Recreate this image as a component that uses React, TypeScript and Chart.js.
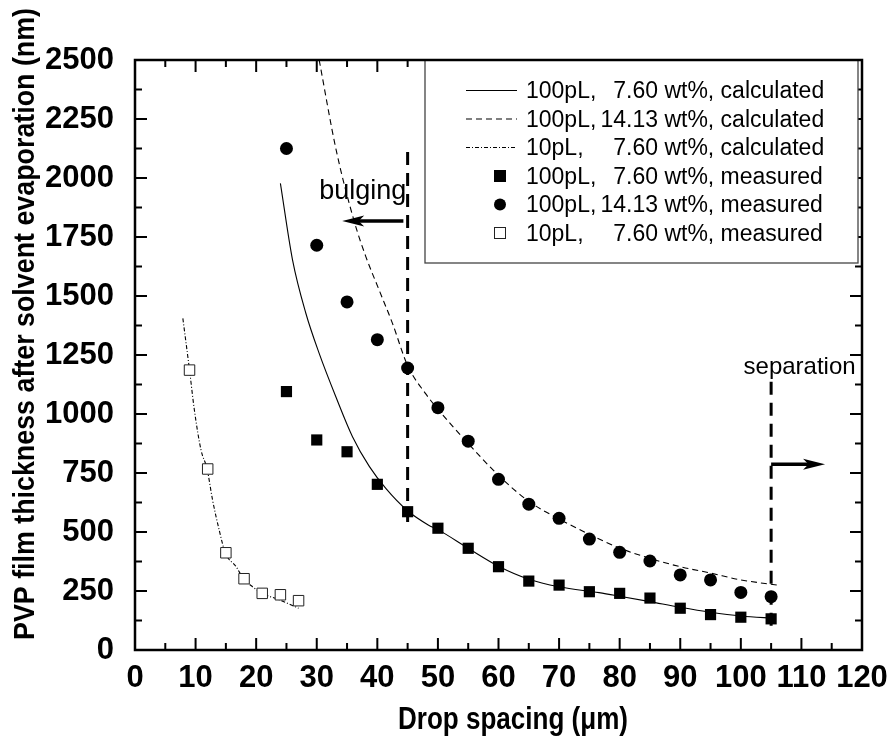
import React, { useEffect, useRef } from 'react';
import { Chart, registerables } from 'chart.js';

Chart.register(...registerables);

// ---------------- data ----------------
// calculated curves
const CALC_100_760_X = [24.0, 26.0, 28.2, 30.4, 33.2, 35.9, 38.7, 41.4, 45, 48.4, 50, 55, 60, 65, 70, 76.6, 80, 85, 90, 95, 100, 105.7];
const CALC_100_760_Y = [1977, 1653, 1427, 1257, 1070, 904, 777, 685, 590, 530, 510, 431, 355, 300, 268, 243, 228, 205, 181, 160, 144, 134];

const CALC_100_1413_X = [30.4, 33.2, 36.2, 38.1, 40.3, 42.5, 45, 48, 50, 55, 60, 65, 70, 75, 80, 85, 90, 95, 100, 106];
const CALC_100_1413_Y = [2500, 2119, 1815, 1667, 1525, 1384, 1205, 1085, 1020, 875, 740, 630, 555, 490, 432, 388, 353, 326, 297, 275];

const CALC_10_760_X = [7.9, 9.0, 9.8, 10.9, 11.9, 12.8, 13.9, 14.9, 16.7, 17.9, 19.4, 21.0, 23.9, 27.0];
const CALC_10_760_Y = [1405, 1186, 1017, 847, 767, 636, 508, 412, 353, 302, 268, 240, 212, 177];

// measured points
const MEAS_100_X = [25, 30, 35, 40, 45, 50, 55, 60, 65, 70, 75, 80, 85, 90, 95, 100, 105];
const MEAS_100_760_Y = [1095, 890, 840, 702, 586, 516, 431, 353, 292, 275, 247, 240, 220, 177, 150, 139, 132];
const MEAS_100_1413_Y = [2125, 1715, 1475, 1315, 1195, 1027, 885, 723, 618, 558, 470, 414, 377, 318, 297, 244, 226];

const MEAS_10_760_X = [9, 12, 15, 18, 21, 24, 27];
const MEAS_10_760_Y = [1186, 767, 412, 302, 240, 234, 209];

// axes
const X_TICKS = [0, 10, 20, 30, 40, 50, 60, 70, 80, 90, 100, 110, 120];
const X_MINOR = [5, 15, 25, 35, 45, 55, 65, 75, 85, 95, 105, 115];
const Y_TICKS = [0, 250, 500, 750, 1000, 1250, 1500, 1750, 2000, 2250, 2500];
const Y_MINOR = [125, 375, 625, 875, 1125, 1375, 1625, 1875, 2125, 2375];

const X_TITLE = 'Drop spacing (\u03bcm)';
const Y_TITLE = 'PVP film thickness after solvent evaporation (nm)';

// annotations (data units)
const BULGING_LINE = { x: 45, y0: 510, y1: 2110 };
const SEPARATION_LINE = { x: 105, y0: 100, y1: 1137 };
const BULGING_ARROW = { x0: 44.3, x1: 34.2, y: 1818 };
const SEPARATION_ARROW = { x0: 105, x1: 113.9, y: 787 };
const BULGING_TEXT = { text: 'bulging', x: 37.6, y: 1909 };
const SEPARATION_TEXT = { text: 'separation', x: 109.7, y: 1170 };

// legend entries
const LEGEND_VOL = ['100pL,', '100pL,', '10pL,', '100pL,', '100pL,', '10pL,'];
const LEGEND_CONC = ['7.60', '14.13', '7.60', '7.60', '14.13', '7.60'];
const LEGEND_KIND = ['calculated', 'calculated', 'calculated', 'measured', 'measured', 'measured'];
const LEGEND_SYMBOL = ['solid', 'dash', 'dashdot', 'square', 'circle', 'opensquare'];

const zip = (xs: number[], ys: number[]) => xs.map((x, i) => ({ x, y: ys[i] }));

const SANS = "'Liberation Sans', Arial, sans-serif";

const DASH = [6, 4];
const DASHDOT = [4, 2, 1, 2];

// draw text horizontally squeezed/stretched to a target width
function fitText(ctx: CanvasRenderingContext2D, text: string, cx: number, by: number, width: number) {
  const w = ctx.measureText(text).width;
  const k = width / w;
  ctx.save();
  ctx.translate(cx, by);
  ctx.scale(k, 1);
  ctx.textAlign = 'center';
  ctx.fillText(text, 0, 0);
  ctx.restore();
}

const decorPlugin = {
  id: 'decor',
  beforeDatasetsDraw(chart: any) {
    const ctx = chart.ctx;
    const xs = chart.scales.x;
    const ys = chart.scales.y;
    ctx.save();
    ctx.strokeStyle = '#000';
    ctx.fillStyle = '#000';
    // vertical thick dashed lines
    ctx.lineWidth = 3;
    ctx.setLineDash([13, 8]);
    for (const l of [BULGING_LINE, SEPARATION_LINE]) {
      const px = xs.getPixelForValue(l.x);
      ctx.beginPath();
      ctx.moveTo(px, ys.getPixelForValue(l.y1));
      ctx.lineTo(px, ys.getPixelForValue(l.y0));
      ctx.stroke();
    }
    ctx.setLineDash([]);
    // arrows
    for (const a of [BULGING_ARROW, SEPARATION_ARROW]) {
      const p0 = xs.getPixelForValue(a.x0);
      const p1 = xs.getPixelForValue(a.x1);
      const py = ys.getPixelForValue(a.y);
      const dir = Math.sign(p1 - p0);
      const head = 22;
      ctx.lineWidth = 3.5;
      ctx.beginPath();
      ctx.moveTo(p0, py);
      ctx.lineTo(p1 - dir * head * 0.6, py);
      ctx.stroke();
      ctx.beginPath();
      ctx.moveTo(p1, py);
      ctx.lineTo(p1 - dir * head, py - 5.5);
      ctx.lineTo(p1 - dir * head * 0.75, py);
      ctx.lineTo(p1 - dir * head, py + 5.5);
      ctx.closePath();
      ctx.fill();
    }
    // texts
    ctx.textBaseline = 'alphabetic';
    ctx.textAlign = 'center';
    ctx.font = `27px ${SANS}`;
    ctx.fillText(BULGING_TEXT.text, xs.getPixelForValue(BULGING_TEXT.x), ys.getPixelForValue(BULGING_TEXT.y));
    ctx.font = `24px ${SANS}`;
    ctx.fillText(SEPARATION_TEXT.text, xs.getPixelForValue(SEPARATION_TEXT.x), ys.getPixelForValue(SEPARATION_TEXT.y));
    ctx.restore();
  },
  afterDatasetsDraw(chart: any) {
    const ctx = chart.ctx;
    const xs = chart.scales.x;
    const ys = chart.scales.y;
    const { left, right, top, bottom } = chart.chartArea;
    ctx.save();
    ctx.strokeStyle = '#000';
    ctx.lineWidth = 2;
    const MAJ = 12;
    const MIN = 7;
    const vt = (v: number, len: number) => {
      const px = xs.getPixelForValue(v);
      ctx.beginPath();
      ctx.moveTo(px, bottom);
      ctx.lineTo(px, bottom - len);
      ctx.moveTo(px, top);
      ctx.lineTo(px, top + len);
      ctx.stroke();
    };
    const ht = (v: number, len: number) => {
      const py = ys.getPixelForValue(v);
      ctx.beginPath();
      ctx.moveTo(left, py);
      ctx.lineTo(left + len, py);
      ctx.moveTo(right, py);
      ctx.lineTo(right - len, py);
      ctx.stroke();
    };
    X_TICKS.forEach((v) => vt(v, MAJ));
    X_MINOR.forEach((v) => vt(v, MIN));
    Y_TICKS.forEach((v) => ht(v, MAJ));
    Y_MINOR.forEach((v) => ht(v, MIN));

    // legend
    const lx0 = 425, lx1 = 858, ly0 = top, ly1 = 263;
    ctx.fillStyle = '#fff';
    ctx.fillRect(lx0, ly0, lx1 - lx0, ly1 - ly0);
    ctx.strokeStyle = '#444';
    ctx.lineWidth = 1.3;
    ctx.strokeRect(lx0, ly0, lx1 - lx0, ly1 - ly0);
    ctx.font = `23px ${SANS}`;
    ctx.textBaseline = 'alphabetic';
    for (let i = 0; i < LEGEND_VOL.length; i++) {
      const by = 98 + 28.5 * i;
      const my = by - 7.5;
      ctx.fillStyle = '#000';
      ctx.strokeStyle = '#000';
      const sym = LEGEND_SYMBOL[i];
      if (sym === 'solid' || sym === 'dash' || sym === 'dashdot') {
        ctx.lineWidth = 1.1;
        ctx.setLineDash(sym === 'solid' ? [] : sym === 'dash' ? DASH : DASHDOT);
        ctx.beginPath();
        ctx.moveTo(466, my);
        ctx.lineTo(517, my);
        ctx.stroke();
        ctx.setLineDash([]);
      } else if (sym === 'square') {
        ctx.fillRect(500 - 6, my - 6, 12, 12);
      } else if (sym === 'circle') {
        ctx.beginPath();
        ctx.arc(500, my, 6, 0, Math.PI * 2);
        ctx.fill();
      } else {
        ctx.fillStyle = '#fff';
        ctx.fillRect(500 - 5.5, my - 5.5, 11, 11);
        ctx.strokeStyle = '#222';
        ctx.lineWidth = 1;
        ctx.strokeRect(500 - 5.5, my - 5.5, 11, 11);
        ctx.fillStyle = '#000';
      }
      ctx.textAlign = 'left';
      ctx.fillText(LEGEND_VOL[i], 526, by);
      ctx.textAlign = 'right';
      ctx.fillText(LEGEND_CONC[i], 658, by);
      ctx.textAlign = 'left';
      ctx.fillText(` wt%, ${LEGEND_KIND[i]}`, 658, by);
    }

    // frame
    ctx.strokeStyle = '#000';
    ctx.lineWidth = 2.5;
    ctx.strokeRect(left, top, right - left, bottom - top);

    // axis titles
    ctx.fillStyle = '#000';
    ctx.textBaseline = 'alphabetic';
    ctx.font = `bold 31px ${SANS}`;
    fitText(ctx, X_TITLE, 513, 729, 230);
    ctx.save();
    ctx.translate(34, 324);
    ctx.rotate(-Math.PI / 2);
    ctx.font = `bold 29px ${SANS}`;
    fitText(ctx, Y_TITLE, 0, 0, 632);
    ctx.restore();
    ctx.restore();
  },
};

export default function App() {
  const ref = useRef<HTMLCanvasElement | null>(null);
  useEffect(() => {
    document.body.style.margin = '0';
    const canvas = ref.current!;
    const tickFont = { family: SANS, size: 31, weight: 'bold' as const };
    const chart = new Chart(canvas, {
      type: 'scatter',
      data: {
        datasets: [
          {
            label: '100pL, 7.60 wt%, measured',
            data: zip(MEAS_100_X, MEAS_100_760_Y),
            pointStyle: 'rect',
            pointRadius: 7.9,
            backgroundColor: '#000',
            borderWidth: 0,
            showLine: false,
          },
          {
            label: '100pL, 14.13 wt%, measured',
            data: zip(MEAS_100_X, MEAS_100_1413_Y),
            pointStyle: 'circle',
            pointRadius: 6.5,
            backgroundColor: '#000',
            borderWidth: 0,
            showLine: false,
          },
          {
            label: '10pL, 7.60 wt%, measured',
            data: zip(MEAS_10_760_X, MEAS_10_760_Y),
            pointStyle: 'rect',
            pointRadius: 7.4,
            backgroundColor: '#fff',
            borderColor: '#222',
            borderWidth: 1,
            showLine: false,
          },
          {
            label: '100pL, 7.60 wt%, calculated',
            data: zip(CALC_100_760_X, CALC_100_760_Y),
            showLine: true,
            pointRadius: 0,
            borderColor: '#000',
            borderWidth: 1.1,
            cubicInterpolationMode: 'monotone',
          },
          {
            label: '100pL, 14.13 wt%, calculated',
            data: zip(CALC_100_1413_X, CALC_100_1413_Y),
            showLine: true,
            pointRadius: 0,
            borderColor: '#000',
            borderWidth: 1.1,
            borderDash: DASH,
            cubicInterpolationMode: 'monotone',
          },
          {
            label: '10pL, 7.60 wt%, calculated',
            data: zip(CALC_10_760_X, CALC_10_760_Y),
            showLine: true,
            pointRadius: 0,
            borderColor: '#000',
            borderWidth: 1.1,
            borderDash: DASHDOT,
            cubicInterpolationMode: 'monotone',
          },
        ],
      },
      options: {
        animation: false,
        responsive: false,
        devicePixelRatio: 1,
        layout: { padding: { top: 60, right: 29, left: 0, bottom: 0 } },
        plugins: { legend: { display: false }, tooltip: { enabled: false } },
        scales: {
          x: {
            type: 'linear',
            min: 0,
            max: 120,
            grid: { display: false },
            border: { display: false },
            afterBuildTicks: (s: any) => {
              s.ticks = X_TICKS.map((v) => ({ value: v }));
            },
            afterFit: (s: any) => {
              s.height = 98;
            },
            ticks: {
              font: tickFont,
              color: '#000',
              padding: 2,
              maxRotation: 0,
              autoSkip: false,
              callback: (v: any) => String(v),
            },
          },
          y: {
            type: 'linear',
            min: 0,
            max: 2500,
            grid: { display: false },
            border: { display: false },
            afterBuildTicks: (s: any) => {
              s.ticks = Y_TICKS.map((v) => ({ value: v }));
            },
            afterFit: (s: any) => {
              s.width = 135;
            },
            ticks: {
              font: tickFont,
              color: '#000',
              padding: 13,
              autoSkip: false,
              callback: (v: any) => String(v),
            },
          },
        },
      },
      plugins: [decorPlugin],
    });
    return () => chart.destroy();
  }, []);
  return (
    <canvas
      ref={ref}
      width={891}
      height={748}
      style={{ display: 'block', width: 891, height: 748, background: '#fff' }}
    />
  );
}
